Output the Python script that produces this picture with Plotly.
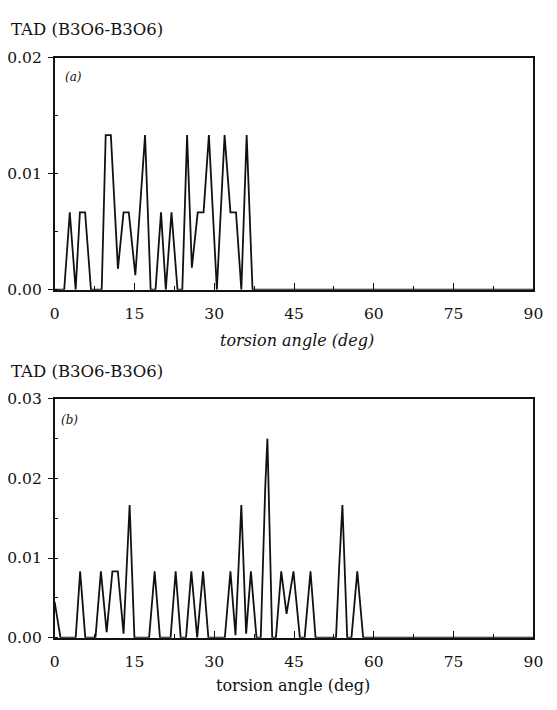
import plotly.graph_objects as go

# Torsion angle distribution, B3O6-B3O6 ring pairs: polyline vertices (deg, fraction)
angle_a = [0, 1.8, 2.85, 3.95, 4.75, 5.73, 6.83, 8.85, 9.6, 10.57, 11.9, 12.96,
           13.94, 15.17, 17.0, 18.05, 18.97, 20.0, 20.9, 21.97, 23.1, 24.0, 24.9,
           25.8, 26.9, 28.0, 29.0, 30.5, 31.95, 33.05, 34.1, 35.1, 36.1, 37.2, 90]
tad_a = [0, 0, 0.00667, 0, 0.00667, 0.00667, 0, 0, 0.01333, 0.01333, 0.0018,
         0.00667, 0.00667, 0.00125, 0.01333, 0, 0, 0.00667, 0, 0.00667, 0, 0,
         0.01333, 0.0019, 0.00667, 0.00667, 0.01333, 0, 0.01333, 0.00667,
         0.00667, 0, 0.01333, 0, 0]

angle_b = [0, 1.1, 3.96, 4.8, 5.76, 7.68, 8.7, 9.78, 10.86, 11.88, 12.96, 13.6,
           14.1, 15.0, 17.76, 18.8, 19.8, 21.8, 22.75, 23.7, 24.7, 25.7, 26.8,
           27.9, 28.9, 32.0, 33.05, 34.0, 34.6, 35.1, 36.0, 36.9, 37.95, 38.75,
           39.6, 40.0, 40.9, 41.6, 42.6, 43.6, 44.9, 46.1, 47.0, 48.1, 49.05,
           52.9, 53.5, 54.1, 55.0, 55.8, 56.9, 58.0, 90]
tad_b = [0.0045, 0, 0, 0.00833, 0, 0, 0.00833, 0.0007, 0.00833, 0.00833, 0.0005,
         0.009, 0.01667, 0, 0, 0.00833, 0, 0, 0.00833, 0, 0, 0.00833, 0,
         0.00833, 0, 0, 0.00833, 0.0003, 0.009, 0.01667, 0.0005, 0.00833, 0, 0,
         0.019, 0.025, 0, 0, 0.00833, 0.003, 0.00833, 0, 0, 0.00833, 0,
         0, 0.009, 0.01667, 0, 0, 0.00833, 0, 0]

x_ticks = [0, 15, 30, 45, 60, 75, 90]
panel_title = "TAD (B3O6-B3O6)"
x_title = "torsion angle (deg)"

W, H = 557, 710
FONT = "DejaVu Serif"
INK = "#111111"


def px_x(p):
    return p / W


def px_y(p):
    return 1 - p / H


fig = go.Figure()
fig.add_trace(go.Scatter(x=angle_a, y=tad_a, mode="lines", xaxis="x", yaxis="y",
                         line=dict(color=INK, width=1.8), showlegend=False))
fig.add_trace(go.Scatter(x=angle_b, y=tad_b, mode="lines", xaxis="x2", yaxis="y2",
                         line=dict(color=INK, width=1.8), showlegend=False))

x_left, x_right = 51, 543
xdom = [px_x(x_left), px_x(x_right)]

common_x = dict(range=[0, 90], tickvals=x_ticks, ticks="inside", ticklen=7,
                tickwidth=1.3, tickcolor=INK, showline=True, linecolor=INK,
                linewidth=1.5, mirror=True, showgrid=False, zeroline=False,
                ticklabelstandoff=9,
                tickfont=dict(family=FONT, size=15.5, color=INK),
                minor=dict(dtick=7.5, ticks="inside", ticklen=4, tickcolor=INK))
common_y = dict(ticks="outside", ticklen=5, tickwidth=1.3, tickcolor=INK,
                showline=True, linecolor=INK, linewidth=1.5, mirror=True,
                showgrid=False, zeroline=False, tickformat=".2f",
                ticklabelstandoff=3,
                tickfont=dict(family=FONT, size=15.5, color=INK),
                minor=dict(dtick=0.005, ticks="inside", ticklen=4, tickcolor=INK))

fig.update_layout(
    width=W, height=H, margin=dict(l=0, r=0, t=0, b=0),
    paper_bgcolor="white", plot_bgcolor="white",
    xaxis=dict(domain=xdom, anchor="y", **common_x),
    yaxis=dict(domain=[px_y(288), px_y(50)], anchor="x", range=[0, 0.02],
               tickvals=[0, 0.01, 0.02], **common_y),
    xaxis2=dict(domain=xdom, anchor="y2", **common_x),
    yaxis2=dict(domain=[px_y(645), px_y(400)], anchor="x2", range=[0, 0.03],
                tickvals=[0, 0.01, 0.02, 0.03], **common_y),
)

annotations = [
    dict(text=panel_title, x=px_x(4), y=px_y(21), xanchor="left", yanchor="middle",
         font=dict(family=FONT, size=16.5, color=INK)),
    dict(text=panel_title, x=px_x(4), y=px_y(372), xanchor="left", yanchor="middle",
         font=dict(family=FONT, size=16.5, color=INK)),
    dict(text="<i>" + x_title + "</i>", x=px_x(300), y=px_y(340), xanchor="center",
         yanchor="middle", font=dict(family=FONT, size=16, color=INK)),
    dict(text=x_title, x=px_x(296), y=px_y(694), xanchor="center",
         yanchor="middle", font=dict(family=FONT, size=16, color=INK)),
    dict(text="<i>(a)</i>", x=px_x(60), y=px_y(70), xanchor="left", yanchor="middle",
         font=dict(family=FONT, size=12, color=INK)),
    dict(text="<i>(b)</i>", x=px_x(56), y=px_y(422), xanchor="left", yanchor="middle",
         font=dict(family=FONT, size=12, color=INK)),
]
for a in annotations:
    a.update(xref="paper", yref="paper", showarrow=False)
fig.update_layout(annotations=annotations)

fig.write_html("out.html")
